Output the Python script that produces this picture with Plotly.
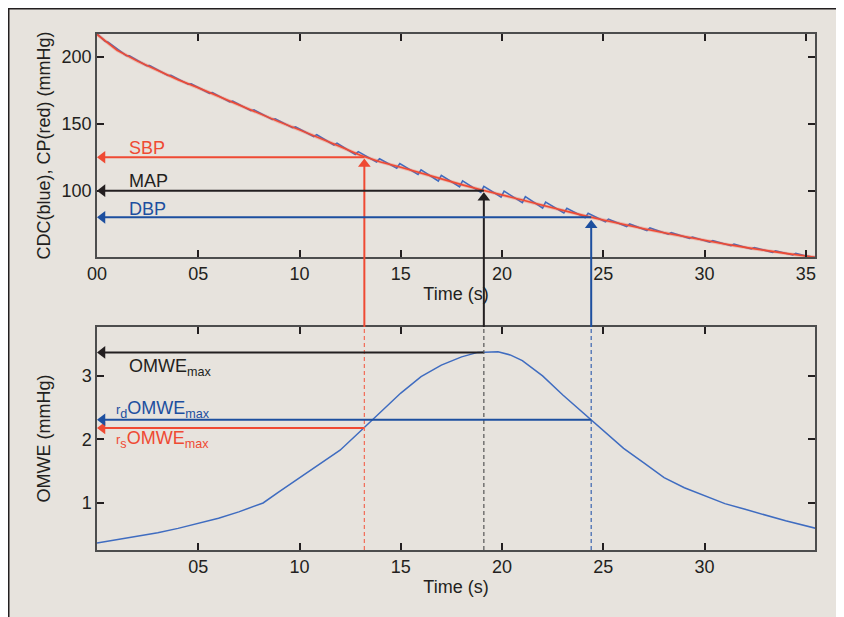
import plotly.graph_objects as go

# ---------------- data ----------------
cp_t = [0, 1, 2, 3, 4, 5, 6, 7, 8, 9, 10, 11, 12, 13, 14, 15, 16, 17, 18, 19,
        20, 21, 22, 23, 24, 25, 26, 27, 28, 29, 30, 31, 32, 33, 34, 35, 35.5]
cp_v = [217, 205, 197, 190, 183, 177, 170.5, 164, 158, 151.5, 145.5, 139.5, 133,
        126.5, 121.5, 117.5, 113, 108.5, 104.5, 100.5, 97, 93, 89, 85, 81.5, 78,
        74.5, 71.5, 68.5, 65.5, 62.5, 60, 57.5, 55, 53, 51, 50]

cdc_t = [0, 0.40, 0.55, 1.45, 1.6, 2.45, 2.6, 3.5, 3.65, 4.5, 4.65, 5.55, 5.7,
         6.55, 6.7, 7.6, 7.75, 8.65, 8.8, 9.65, 9.8, 10.7, 10.85, 11.7, 11.85,
         12.75, 12.9, 13.8, 13.95, 14.8, 14.95, 15.85, 16.0, 16.85, 17.0, 17.9,
         18.05, 18.95, 19.1, 19.95, 20.1, 21.0, 21.15, 22.0, 22.15, 23.05, 23.2,
         24.1, 24.25, 25.1, 25.25, 26.15, 26.3, 27.15, 27.3, 28.2, 28.35, 29.25,
         29.4, 30.25, 30.4, 31.3, 31.45, 32.3, 32.45, 33.35, 33.5, 34.35, 34.5,
         35.0, 35.5]
cdc_v = [217.5, 211.9, 211.2, 201.1, 201.0, 193.5, 193.6, 186.2, 186.3, 179.7,
         179.9, 172.9, 173.5, 166.4, 167.0, 159.9, 160.5, 153.3, 153.8, 147.1,
         147.7, 140.5, 141.9, 134.2, 135.5, 127.1, 129.2, 121.5, 123.8, 116.8,
         120.2, 112.2, 115.5, 107.2, 111.5, 102.9, 107.3, 98.7, 103.2, 95.2,
         99.6, 91.0, 95.5, 87.0, 91.4, 83.3, 86.8, 79.7, 83.1, 76.7, 78.6, 73.1,
         75.1, 70.1, 72.1, 67.4, 68.5, 64.3, 65.3, 61.4, 62.5, 58.8, 59.9, 56.3,
         57.4, 53.8, 55.0, 51.8, 53.0, 51.0, 50.0]

omwe_t = [0, 1, 2, 3, 4, 5, 6, 7, 8.2, 9, 10, 11, 12, 13, 14, 15, 16, 17, 18,
          18.8, 19.8, 20.4, 21, 22, 23, 24, 25, 26, 27, 28, 29, 30, 31, 32, 33,
          34, 35.5]
omwe_v = [0.37, 0.42, 0.47, 0.53, 0.60, 0.68, 0.76, 0.86, 1.00, 1.18, 1.40, 1.61,
          1.83, 2.13, 2.43, 2.73, 2.99, 3.17, 3.30, 3.37, 3.38, 3.33, 3.24, 3.00,
          2.70, 2.42, 2.13, 1.86, 1.63, 1.40, 1.24, 1.11, 0.99, 0.90, 0.81, 0.72,
          0.60]

# detected points: time (s), pressure (mmHg), OMWE level (mmHg)
pt_labels = ["SBP", "MAP", "DBP"]
pt_time = [13.2, 19.1, 24.4]
pt_press = [125, 100, 80]
pt_omwe = [2.18, 3.37, 2.31]
# where the upward arrowheads sit (just under the CP curve)
pt_head = [119.9, 94.6, 74.1]

top_xticks = [0, 5, 10, 15, 20, 25, 30, 35]
top_xticktext = ["00", "05", "10", "15", "20", "25", "30", "35"]
bot_xticks = [5, 10, 15, 20, 25, 30]
bot_xticktext = ["05", "10", "15", "20", "25", "30"]
top_yticks = [100, 150, 200]
bot_yticks = [1, 2, 3]

# ---------------- styling / geometry ----------------
RED = "#ef4a33"
BLUE = "#1d4f9f"
CURVE_BLUE = "#3f6cc0"
BLACK = "#231f20"
FONT = "Liberation Sans, Arial, Helvetica, sans-serif"
FS = 18
BEIGE = "#e7e3dd"
PLOTBG = "#f2f0ed"

W, H = 836, 609            # page adds an 8px body margin
ML, MR, MT, MB = 89, 29, 26, 67
PW, PH = W - ML - MR, H - MT - MB
TOP_DOM = [0.5678, 1.0]
BOT_DOM = [0.0, 0.4322]
X_RANGE = [0, 35.45]
Y1_RANGE = [50.3, 217.3]
Y2_RANGE = [0.26, 3.77]
HEAD_DX = 0.27             # arrowhead centre offset from the y axis (s)

fig = go.Figure()
fig.add_trace(go.Scatter(x=cdc_t, y=cdc_v, mode="lines",
                         line=dict(color=CURVE_BLUE, width=1.6),
                         xaxis="x", yaxis="y", showlegend=False, hoverinfo="skip"))
fig.add_trace(go.Scatter(x=cp_t, y=cp_v, mode="lines",
                         line=dict(color="rgba(240,90,70,0.30)", width=3.4),
                         xaxis="x", yaxis="y", showlegend=False, hoverinfo="skip"))
fig.add_trace(go.Scatter(x=cp_t, y=cp_v, mode="lines",
                         line=dict(color=RED, width=1.6),
                         xaxis="x", yaxis="y", showlegend=False))
fig.add_trace(go.Scatter(x=omwe_t, y=omwe_v, mode="lines",
                         line=dict(color=CURVE_BLUE, width=1.5),
                         xaxis="x2", yaxis="y2", showlegend=False))

axis_common = dict(showgrid=False, zeroline=False, showline=True,
                   linecolor="#4d4d4d", linewidth=1.5, mirror="ticks",
                   ticks="inside", ticklen=7, tickwidth=2, tickcolor=BLACK,
                   tickfont=dict(family=FONT, size=FS, color=BLACK))
title_font = dict(family=FONT, size=FS, color=BLACK)

fig.update_layout(
    width=W, height=H,
    margin=dict(l=ML, r=MR, t=MT, b=MB, autoexpand=False),
    paper_bgcolor="white", plot_bgcolor=PLOTBG,
    font=dict(family=FONT, color=BLACK, size=FS),
    xaxis=dict(domain=[0, 1], anchor="y", range=X_RANGE,
               tickvals=top_xticks, ticktext=top_xticktext,
               title=dict(text="Time (s)", standoff=4, font=title_font),
               **axis_common),
    yaxis=dict(domain=TOP_DOM, anchor="x", range=Y1_RANGE,
               tickvals=top_yticks,
               title=dict(text="CDC(blue), CP(red) (mmHg)", standoff=6,
                          font=title_font),
               **axis_common),
    xaxis2=dict(domain=[0, 1], anchor="y2", range=X_RANGE,
                tickvals=bot_xticks, ticktext=bot_xticktext,
                title=dict(text="Time (s)", standoff=4, font=title_font),
                **axis_common),
    yaxis2=dict(domain=BOT_DOM, anchor="x2", range=Y2_RANGE,
                tickvals=bot_yticks,
                title=dict(text="OMWE (mmHg)", standoff=26, font=title_font),
                **axis_common),
)

# outer framed beige panel (left, top and right border lines)
fig.add_shape(type="rect", xref="paper", yref="paper",
              x0=(0.75 - ML) / PW, x1=(W - 1.5 - ML) / PW,
              y0=-0.3, y1=(H - MB - 0.75) / PH,
              fillcolor=BEIGE, line=dict(color=BLACK, width=1.5), layer="below")

colors = [RED, BLACK, BLUE]
dash_colors = ["#f26a55", "#555555", "#3a64b0"]
for tt, pp, oo, hh, c, dc in zip(pt_time, pt_press, pt_omwe, pt_head,
                                  colors, dash_colors):
    # horizontal shaft to the pressure axis (top panel)
    fig.add_shape(type="line", xref="x", yref="y", x0=HEAD_DX, x1=tt, y0=pp, y1=pp,
                  line=dict(color=c, width=2))
    # vertical shaft: inside the top panel ...
    fig.add_shape(type="line", xref="x", yref="y", x0=tt, x1=tt,
                  y0=Y1_RANGE[0], y1=hh, line=dict(color=c, width=2))
    # ... and across the gap between the panels
    fig.add_shape(type="line", xref="x", yref="paper", x0=tt, x1=tt,
                  y0=BOT_DOM[1], y1=TOP_DOM[0], line=dict(color=c, width=2))
    # horizontal shaft to the OMWE axis (bottom panel)
    fig.add_shape(type="line", xref="x2", yref="y2", x0=HEAD_DX, x1=tt, y0=oo, y1=oo,
                  line=dict(color=c, width=2))
    # dashed vertical line in the bottom panel
    fig.add_shape(type="line", xref="x2", yref="y2 domain", x0=tt, x1=tt,
                  y0=0, y1=1, line=dict(color=dc, width=1.2, dash="4px,3px"))

# arrowheads
fig.add_trace(go.Scatter(x=[HEAD_DX] * 3, y=pt_press, mode="markers",
                         marker=dict(symbol="triangle-left", size=11, color=colors,
                                     line=dict(width=0)),
                         cliponaxis=False, xaxis="x", yaxis="y", showlegend=False))
fig.add_trace(go.Scatter(x=pt_time, y=pt_head, mode="markers",
                         marker=dict(symbol="triangle-up", size=11, color=colors,
                                     line=dict(width=0)),
                         cliponaxis=False, xaxis="x", yaxis="y", showlegend=False))
fig.add_trace(go.Scatter(x=[HEAD_DX] * 3, y=pt_omwe, mode="markers",
                         marker=dict(symbol="triangle-left", size=11, color=colors,
                                     line=dict(width=0)),
                         cliponaxis=False, xaxis="x2", yaxis="y2", showlegend=False))

# labels top panel
top_lab_y = [132.3, 107.5, 86.5]
for lab, yy, c in zip(pt_labels, top_lab_y, colors):
    fig.add_annotation(x=1.5, y=yy, xref="x", yref="y", text=lab,
                       showarrow=False, xanchor="left", yanchor="middle",
                       font=dict(family=FONT, size=FS, color=c))

# labels bottom panel
fig.add_annotation(x=1.5, y=3.14, xref="x2", yref="y2",
                   text="OMWE<sub>max</sub>", showarrow=False,
                   xanchor="left", yanchor="middle",
                   font=dict(family=FONT, size=FS, color=BLACK))
fig.add_annotation(x=0.85, y=2.47, xref="x2", yref="y2",
                   text="<span style='font-size:13px'>r</span><sub>d</sub>OMWE<sub>max</sub>",
                   showarrow=False, xanchor="left", yanchor="middle",
                   font=dict(family=FONT, size=FS, color=BLUE))
fig.add_annotation(x=0.85, y=2.0, xref="x2", yref="y2",
                   text="<span style='font-size:13px'>r</span><sub>s</sub>OMWE<sub>max</sub>",
                   showarrow=False, xanchor="left", yanchor="middle",
                   font=dict(family=FONT, size=FS, color=RED))

fig.write_html("out.html")
